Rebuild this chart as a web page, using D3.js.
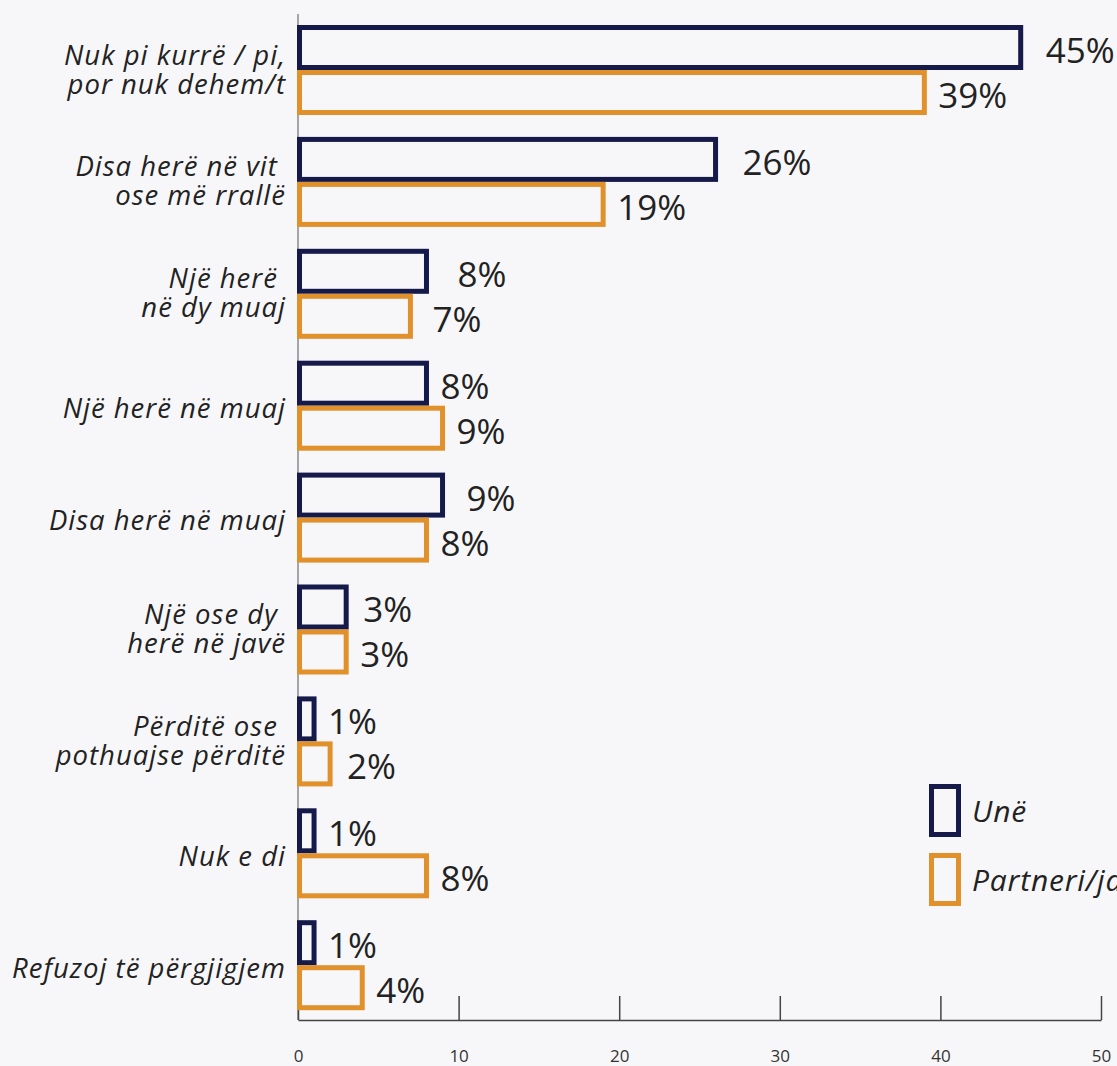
<!DOCTYPE html>
<html><head><meta charset="utf-8">
<script src="https://cdn.jsdelivr.net/npm/d3@7"></script>
<style>
html,body{margin:0;padding:0;background:#f7f7f9;}
svg{display:block;}
text{white-space:pre;}
</style></head><body>
<svg id="chart" width="1117" height="1066"></svg>
<script>
// ---- data ----
const categories = [
  "Nuk pi kurrë / pi,\npor nuk dehem/t",
  "Disa herë në vit \nose më rrallë",
  "Një herë \nnë dy muaj",
  "Një herë në muaj",
  "Disa herë në muaj",
  "Një ose dy \nherë në javë",
  "Përditë ose \npothuajse përditë",
  "Nuk e di",
  "Refuzoj të përgjigjem"
];
const seriesNames = ["Unë", "Partneri/ja"];
const une = [45, 26, 8, 8, 9, 3, 1, 1, 1];
const partneri = [39, 19, 7, 9, 8, 3, 2, 8, 4];
const tickValues = [0, 10, 20, 30, 40, 50];

// ---- layout / style ----
const colors = {"Unë": "#151a4a", "Partneri/ja": "#e0912c"};
const labelNudge = {"Unë": [11, 13, 17, 0, 10, 3, 0, 0, 0], "Partneri/ja": [0, 0, 8, 0, 0, 0, 3, 0, 0]};
const SW = 5;
const font = "'Open Sans', 'Noto Sans', sans-serif";
const textColor = "#222";

const svg = d3.select("#chart");
svg.append("rect").attr("width", 1117).attr("height", 1066).attr("fill", "#f7f7f9");

const x = d3.scaleLinear().domain([0, 50]).range([298, 1101]);
const y = d3.scaleBand().domain(categories).range([25, 1010.2]).paddingInner(0.1957).paddingOuter(0);
const ySub = d3.scaleBand().domain(seriesNames).range([0, y.bandwidth()]);

const rows = categories.map((c, i) => ({cat: c, i, vals: [
  {s: "Unë", v: une[i]}, {s: "Partneri/ja", v: partneri[i]}
]}));

// left axis line
svg.append("line")
  .attr("x1", x(0)).attr("x2", x(0))
  .attr("y1", 14).attr("y2", 1020)
  .attr("stroke", "#8a8a8a").attr("stroke-width", 1.5);

// bottom axis
const axis = svg.append("g")
  .attr("transform", "translate(0,1020)")
  .call(d3.axisBottom(x).tickValues(tickValues).tickSize(-24).tickSizeOuter(0).tickPadding(30));
axis.select(".domain").attr("stroke", "#444").attr("stroke-width", 1.5);
axis.selectAll(".tick line").attr("stroke", "#444").attr("stroke-width", 1.5);
axis.selectAll(".tick text").attr("fill", "#333").attr("font-family", font).attr("font-size", 17);

// groups
const g = svg.selectAll("g.row").data(rows).join("g")
  .attr("class", "row")
  .attr("transform", d => `translate(0,${y(d.cat)})`);

g.selectAll("rect.bar").data(d => d.vals.map(o => ({...o, i: d.i}))).join("rect")
  .attr("class", "bar")
  .attr("x", x(0) + 1.5)
  .attr("y", d => ySub(d.s) + SW / 2)
  .attr("width", d => x(d.v) - x(0) - 1.5)
  .attr("height", ySub.bandwidth() - SW)
  .attr("fill", "#f7f7f9")
  .attr("stroke", d => colors[d.s])
  .attr("stroke-width", SW);

g.selectAll("text.val").data(d => d.vals.map(o => ({...o, i: d.i}))).join("text")
  .attr("class", "val")
  .attr("x", d => x(d.v) + 14 + labelNudge[d.s][d.i])
  .attr("y", d => ySub(d.s) + ySub.bandwidth() / 2 + 15.5)
  .attr("font-family", font)
  .attr("font-size", 35)
  .attr("fill", textColor)
  .text(d => d.v + "%");

// category labels
g.each(function(d) {
  const lines = d.cat.split("\n");
  const c = y.bandwidth() / 2;
  const t = d3.select(this).append("text")
    .attr("text-anchor", "end")
    .attr("font-family", font)
    .attr("font-style", "italic")
    .attr("font-size", 27.5)
    .attr("letter-spacing", 1)
    .attr("fill", textColor);
  const base = lines.length === 1 ? c + 12.5 : c - 5.5;
  lines.forEach((ln, k) => {
    t.append("tspan").attr("x", 286).attr("y", base + k * 29).text(ln);
  });
});

// legend
const leg = svg.append("g").selectAll("g").data(seriesNames).join("g")
  .attr("transform", (d, i) => `translate(929,${784 + i * 69})`);
leg.append("rect")
  .attr("x", SW / 2).attr("y", SW / 2)
  .attr("width", 32 - SW).attr("height", 53 - SW)
  .attr("fill", "#f7f7f9")
  .attr("stroke", d => colors[d]).attr("stroke-width", SW);
leg.append("text")
  .attr("x", 43).attr("y", 38)
  .attr("font-family", font).attr("font-style", "italic")
  .attr("font-size", 30).attr("letter-spacing", 0.8).attr("fill", textColor)
  .text(d => d);
</script>
</body></html>
